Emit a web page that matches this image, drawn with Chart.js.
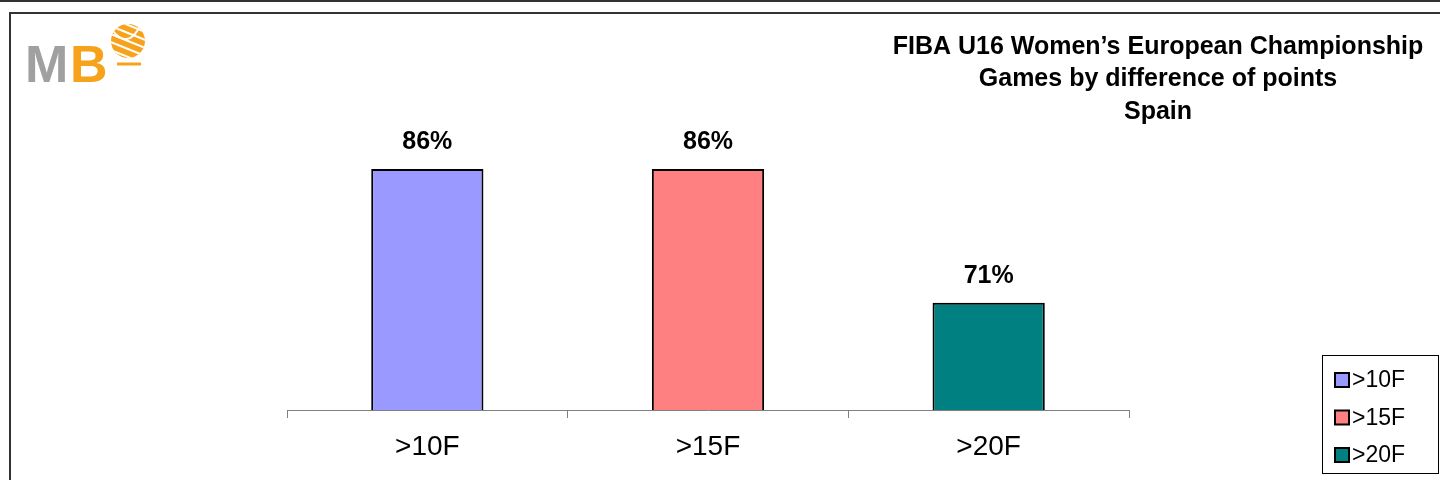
<!DOCTYPE html>
<html lang="en">
<head>
  <meta charset="UTF-8">
  <title>Games by difference of points - Spain</title>
  <script src="https://cdn.jsdelivr.net/npm/chart.js"></script>
  <style>
    html, body { margin: 0; padding: 0; background: #fff; }
    canvas { display: block; }
  </style>
</head>
<body>
  <canvas id="chart" width="1440" height="480"></canvas>

  <script>
    // chart data
    const categories = ['>10F', '>15F', '>20F'];
    const shares = [85.71, 85.71, 71.43];          // % of games won by more than N points
    const shareLabels = ['86%', '86%', '71%'];
    const barColors = ['#9999FF', '#FF8080', '#008080'];
    const titleLines = ['FIBA U16 Women\u2019s European Championship', 'Games by difference of points', 'Spain'];

    const FONT = '"Liberation Sans", Arial, sans-serif';

    // frame, logo, title, value labels and legend
    const decorations = {
      id: 'decorations',
      beforeDraw(chart) {
        const c = chart.ctx;
        c.save();
        c.fillStyle = '#fff';
        c.fillRect(0, 0, chart.width, chart.height);
        c.strokeStyle = '#333';
        c.lineWidth = 2;
        c.beginPath(); c.moveTo(0, 1); c.lineTo(chart.width, 1); c.stroke();
        c.strokeRect(10, 13, chart.width + 20, chart.height + 20);

        // logo
        c.font = 'bold 52px ' + FONT;
        c.textBaseline = 'alphabetic';
        c.fillStyle = '#a0a0a0';
        c.fillText('M', 25, 82);
        c.fillStyle = '#F7A21B';
        c.fillText('B', 70, 82);
        c.beginPath(); c.arc(128, 41, 17, 0, Math.PI * 2); c.fill();
        c.strokeStyle = '#fff'; c.lineWidth = 2;
        c.beginPath(); c.arc(128, 41, 17, 0, Math.PI * 2); c.clip();
        for (let k = -2; k <= 2; k++) {
          c.beginPath(); c.moveTo(108, 41 + k * 8 - 8); c.lineTo(148, 41 + k * 8 + 8); c.stroke();
        }
        c.beginPath(); c.moveTo(112, 30); c.quadraticCurveTo(128, 50, 140, 26); c.stroke();
        c.restore();
        c.save();
        c.strokeStyle = '#F7A21B'; c.lineWidth = 3;
        c.beginPath(); c.moveTo(117, 64); c.lineTo(141, 64); c.stroke();

        // title
        c.fillStyle = '#000';
        c.font = 'bold 25px ' + FONT;
        c.textAlign = 'center';
        c.textBaseline = 'middle';
        titleLines.forEach((t, i) => c.fillText(t, 1158, 47 + i * 32.5));
        c.restore();
      },
      afterDatasetsDraw(chart) {
        const c = chart.ctx;
        const meta = chart.getDatasetMeta(0);
        c.save();
        c.fillStyle = '#000';
        c.font = 'bold 25px ' + FONT;
        c.textAlign = 'center';
        c.textBaseline = 'middle';
        meta.data.forEach((bar, i) => c.fillText(shareLabels[i], bar.x, bar.y - 27));

        // legend
        c.strokeStyle = '#000'; c.lineWidth = 1;
        c.strokeRect(1322.5, 355.5, 116, 118);
        c.font = '23px ' + FONT;
        c.textAlign = 'left';
        categories.forEach((name, i) => {
          const y = 380 + i * 37.5;
          c.fillStyle = barColors[i];
          c.fillRect(1335, y - 7, 14, 14);
          c.lineWidth = 2;
          c.strokeRect(1335, y - 7, 14, 14);
          c.fillStyle = '#000';
          c.fillText(name, 1352, y + 1);
        });
        c.restore();
      }
    };

    new Chart(document.getElementById('chart'), {
      type: 'bar',
      data: {
        labels: categories,
        datasets: [{
          data: shares,
          backgroundColor: barColors,
          borderColor: '#000',
          borderWidth: 2,
          borderSkipped: 'bottom',
          categoryPercentage: 1,
          barPercentage: 0.4
        }]
      },
      options: {
        responsive: false,
        animation: false,
        devicePixelRatio: 1,
        layout: { padding: { left: 287, right: 311, top: 35, bottom: 0 } },
        plugins: { legend: { display: false }, tooltip: { enabled: false } },
        scales: {
          x: {
            offset: true,
            afterFit(scale) { scale.height = 70; },
            grid: { offset: true, drawOnChartArea: false, drawTicks: true, tickLength: 8, color: '#808080' },
            border: { color: '#808080', width: 1 },
            ticks: { color: '#000', padding: 12, font: { family: FONT, size: 28 } }
          },
          y: { display: false, min: 60, max: 100 }
        }
      },
      plugins: [decorations]
    });
  </script>
</body>
</html>
